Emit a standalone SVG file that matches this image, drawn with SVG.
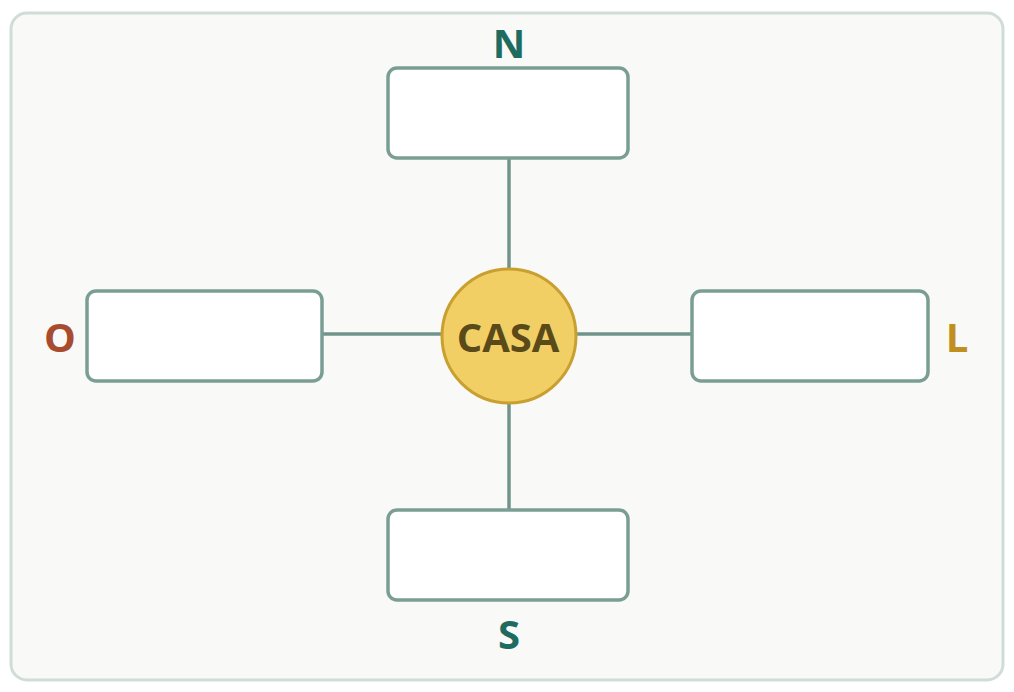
<svg xmlns="http://www.w3.org/2000/svg" width="1014" height="692" viewBox="0 0 1014 692">
<style>
.box{fill:#ffffff;stroke:#7a9e94;stroke-width:3.5}
.conn{stroke:#6f958b;stroke-width:3.5;fill:none}
.lbl{font-family:"Open Sans","Noto Sans",sans-serif;font-weight:700;font-size:40px;text-anchor:middle;dominant-baseline:central}
</style>
<rect x="0" y="0" width="1014" height="692" fill="#ffffff"/>
<rect x="11" y="13" width="992" height="667" rx="16" fill="#f9f9f7" stroke="#d0ddd7" stroke-width="3"/>
<g id="connectors">
<line class="conn" x1="509" y1="158" x2="509" y2="270"/>
<line class="conn" x1="509" y1="402" x2="509" y2="510"/>
<line class="conn" x1="322" y1="334" x2="443" y2="334"/>
<line class="conn" x1="575" y1="334" x2="692" y2="334"/>
</g>
<g id="node-n">
<rect class="box" x="388" y="68" width="240" height="90" rx="9"/>
<text class="lbl" x="509" y="42" fill="#1e6b60">N</text>
</g>
<g id="node-o">
<rect class="box" x="87" y="291" width="235" height="90" rx="9"/>
<text class="lbl" x="60" y="336" fill="#a84b2e">O</text>
</g>
<g id="node-l">
<rect class="box" x="692" y="291" width="236" height="90" rx="9"/>
<text class="lbl" x="957" y="336" fill="#c08f1f">L</text>
</g>
<g id="node-s">
<rect class="box" x="388" y="510" width="240" height="90" rx="9"/>
<text class="lbl" x="509" y="633" fill="#1e6b60">S</text>
</g>
<g id="node-casa">
<circle cx="509" cy="336" r="67" fill="#f2cf65" stroke="#c9a030" stroke-width="3"/>
<text class="lbl" x="508" y="336" fill="#5a4a1a">CASA</text>
</g>
</svg>
